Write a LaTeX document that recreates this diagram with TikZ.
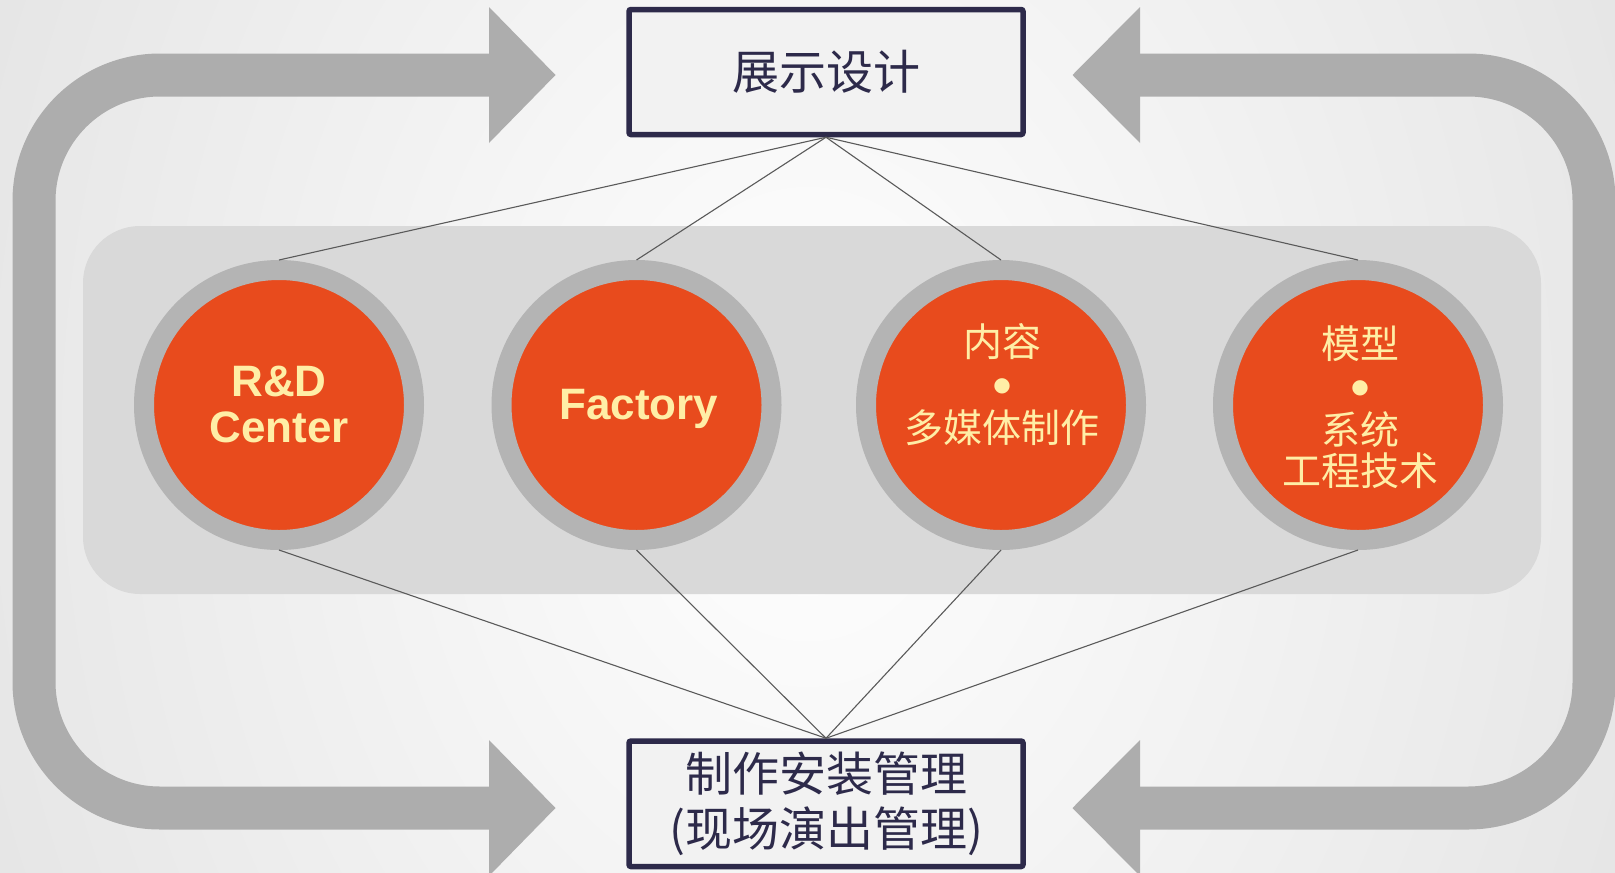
\documentclass[tikz,border=0pt]{standalone}
\usepackage{fontspec}
\setmainfont{Liberation Sans}
\newfontfamily\cjk{Noto Sans CJK SC}
\newfontfamily\dejavu{DejaVu Sans}
\newfontfamily\arialb{Liberation Sans}[BoldFont={* Bold}]
\definecolor{arrowgray}{HTML}{ADADAD}
\definecolor{bandgray}{HTML}{D9D9D9}
\definecolor{ringgray}{HTML}{B4B4B4}
\definecolor{ballorange}{HTML}{E84B1D}
\definecolor{cream}{HTML}{FFEEA6}
\definecolor{boxfill}{HTML}{F2F2F2}
\definecolor{navy}{HTML}{2D2A4A}
\definecolor{linkgray}{HTML}{5A5A5A}
\definecolor{edgegray}{HTML}{E6E6E6}
\newcommand{\bigdot}{\smash{\raisebox{8pt}{\dejavu\fontsize{20}{22}\selectfont ●}}}
\begin{document}
\begin{tikzpicture}[x=1pt,y=-1pt,
  loopband/.style={line width=43pt, draw=arrowgray, rounded corners=126pt},
  headfill/.style={fill=arrowgray},
  dbox/.style={draw=navy, line width=5.5pt, fill=boxfill, rounded corners=2pt,
    minimum width=394pt, minimum height=125pt, inner sep=0pt, align=center,
    text=navy, font=\cjk\fontsize{47}{55}\selectfont},
  ball/.style={circle, fill=ballorange, draw=ringgray, line width=20pt,
    minimum size=270pt, inner sep=0pt},
  entxt/.style={text=cream, align=center, inner sep=0pt,
    font=\arialb\bfseries\fontsize{44}{46}\selectfont},
  cntxt/.style={text=cream, align=center, inner sep=0pt,
    font=\cjk\fontsize{39}{43}\selectfont},
  link/.style={draw=linkgray, line width=1.1pt}
]
\useasboundingbox (0,0) rectangle (1615,873);
\begin{scope}
  \clip (0,0) rectangle (1615,873);
  \shade[inner color=white, outer color=edgegray] (-60,-700) rectangle (1675,1573);
\end{scope}

% grey band
\fill[bandgray, rounded corners=57pt] (83,226) rectangle (1541,594);

% left loop arrow
\draw[loopband] (490,75) -- (34,75) -- (34,808) -- (490,808);
\fill[headfill] (489,7) -- (555.5,75) -- (489,143) -- cycle;
\fill[headfill] (489,740) -- (555.5,808) -- (489,876) -- cycle;

% right loop arrow
\draw[loopband] (1139,75) -- (1594,75) -- (1594,808) -- (1139,808);
\fill[headfill] (1140,7) -- (1072.5,75) -- (1140,143) -- cycle;
\fill[headfill] (1140,740) -- (1072.5,808) -- (1140,876) -- cycle;

% boxes
\node[dbox] (design) at (826,72) {展示设计};
\node[dbox, minimum height=125.5pt] (make) at (826,803.75) {制作安装管理\\(现场演出管理)};

% circles
\node[ball] (c1) at (279,405) {};
\node[ball] (c2) at (636.5,405) {};
\node[ball] (c3) at (1001,405) {};
\node[ball] (c4) at (1358,405) {};

\node[entxt] (t1) at (279,404) {R\&D\\Center};
\node[entxt] (t2) at (639,404) {\raisebox{0pt}[\height][0pt]{Factory}};
\node[cntxt] (t3) at (1002,385) {内容\\\bigdot\\多媒体制作};
\node[cntxt] (t4) at (1360,407) {模型\\\bigdot\\系统\\[-2pt]工程技术};

% links
\foreach \c in {c1,c2,c3,c4}{
  \draw[link] (design.south) -- (\c.north);
  \draw[link] (\c.south) -- (make.north);
}
\end{tikzpicture}
\end{document}
